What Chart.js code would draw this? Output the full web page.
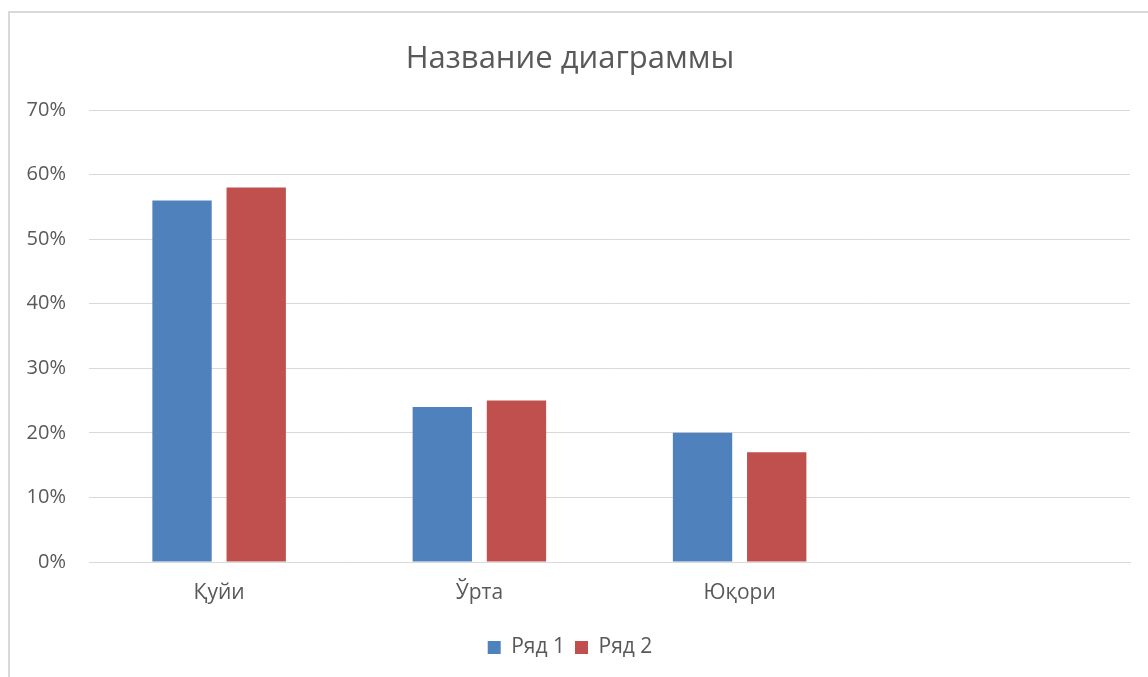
<!DOCTYPE html>
<html>
<head>
<meta charset="utf-8">
<script src="https://cdn.jsdelivr.net/npm/chart.js@4.4.0/dist/chart.umd.min.js"></script>
<style>
  html, body { margin: 0; padding: 0; background: #fff; overflow: hidden; }
  #frame {
    position: absolute; left: 8px; top: 11px;
    width: 1160px; height: 700px;
    border: 2px solid #d9d9d9;
    background: #fff;
  }
  #wrap { position: absolute; left: 0; top: 0; width: 1148px; height: 664px; }
</style>
</head>
<body>
<div id="frame"><div id="wrap"><canvas id="chart"></canvas></div></div>
<script>
// ── data ──────────────────────────────────────────────
const CATEGORIES = ['Қуйи', 'Ўрта', 'Юқори', ''];
const SERIES_1   = [56, 24, 20, null];   // Ряд 1, %
const SERIES_2   = [58, 25, 17, null];   // Ряд 2, %
const Y_MAX      = 70;
const Y_STEP     = 10;

const FONT = "'Open Sans', 'Noto Sans', sans-serif";
const GREY = '#595959';

new Chart(document.getElementById('chart'), {
  type: 'bar',
  data: {
    labels: CATEGORIES,
    datasets: [
      { label: 'Ряд 1', data: SERIES_1, backgroundColor: '#4f81bd' },
      { label: 'Ряд 2', data: SERIES_2, backgroundColor: '#c0504d' },
    ],
  },
  options: {
    responsive: true,
    maintainAspectRatio: false,
    animation: false,
    categoryPercentage: 0.57,
    barPercentage: 0.8,
    layout: { padding: { top: 0, right: 28, bottom: 9, left: 0 } },
    plugins: {
      title: {
        display: true,
        text: 'Название диаграммы',
        color: GREY,
        font: { family: FONT, size: 31, weight: 'normal' },
        padding: { top: 27.5, bottom: 32.3 },
      },
      legend: {
        position: 'bottom',
        labels: {
          color: GREY,
          font: { family: FONT, size: 21 },
          boxWidth: 13, boxHeight: 13,
          padding: 10,
        },
      },
      tooltip: { enabled: false },
    },
    scales: {
      x: {
        grid: { display: false, drawTicks: false },
        border: { display: true, color: '#d9d9d9', width: 1 },
        ticks: { color: GREY, font: { family: FONT, size: 21 }, padding: 18 },
        afterFit: s => { s.height = 65; },
      },
      y: {
        min: 0, max: Y_MAX,
        grid: { color: '#d9d9d9', drawTicks: false },
        border: { display: false },
        ticks: {
          stepSize: Y_STEP,
          color: GREY,
          font: { family: FONT, size: 20 },
          padding: 23,
          callback: v => v + '%',
        },
        afterFit: s => { s.width = 79; },
      },
    },
  },
});
</script>
</body>
</html>
